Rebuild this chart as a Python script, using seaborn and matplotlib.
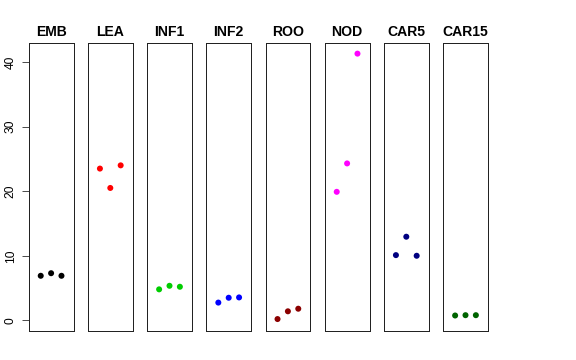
import matplotlib
matplotlib.use("Agg")
import matplotlib.pyplot as plt
import seaborn as sns
import pandas as pd

tissues = ["EMB", "LEA", "INF1", "INF2", "ROO", "NOD", "CAR5", "CAR15"]
colors = ["black", "red", "#00cd00", "blue", "darkred", "magenta", "navy", "darkgreen"]

emb = [6.9, 7.3, 6.9]
lea = [23.5, 20.5, 24.0]
inf1 = [4.8, 5.35, 5.2]
inf2 = [2.75, 3.5, 3.55]
roo = [0.2, 1.4, 1.8]
nod = [19.9, 24.3, 41.3]
car5 = [10.1, 12.95, 10.0]
car15 = [0.75, 0.8, 0.8]
values = [emb, lea, inf1, inf2, roo, nod, car5, car15]
replicate = [1, 2, 3]

sns.set_theme(style="white")
plt.rcParams["font.family"] = ["Liberation Sans", "DejaVu Sans"]
plt.rcParams["text.color"] = "black"
plt.rcParams["ytick.color"] = "black"
plt.rcParams["axes.titlecolor"] = "black"

fig = plt.figure(figsize=(8, 5), dpi=72)

W, H = 576.0, 360.0
top, bottom = 43.3, 331.0
ymin, ymax = -1.65, 42.9

for i, (name, col, vals) in enumerate(zip(tissues, colors, values)):
    left = 28.7 + i * 59.2
    ax = fig.add_axes([left / W, (H - bottom) / H, 44.8 / W, (bottom - top) / H])
    df = pd.DataFrame({"rep": replicate, "val": vals})
    sns.scatterplot(data=df, x="rep", y="val", color=col, s=36, edgecolor="none", ax=ax)
    ax.set_xlim(2 - 2.16, 2 + 2.16)
    ax.set_ylim(ymin, ymax)
    ax.set_xticks([])
    ax.set_xlabel("")
    ax.set_ylabel("")
    ax.set_title(name, fontsize=14, fontweight="bold", pad=7, color="black")
    for sp in ax.spines.values():
        sp.set_color("#222222")
        sp.set_linewidth(1)
    if i == 0:
        ax.set_yticks([0, 10, 20, 30, 40])
        ax.tick_params(axis="y", left=True, length=7, width=0.8, color="#222222",
                       labelsize=12, pad=5, labelcolor="black")
        for lab in ax.get_yticklabels():
            lab.set_rotation(90)
            lab.set_va("center")
    else:
        ax.set_yticks([])

fig.savefig("out.png", dpi=72)
